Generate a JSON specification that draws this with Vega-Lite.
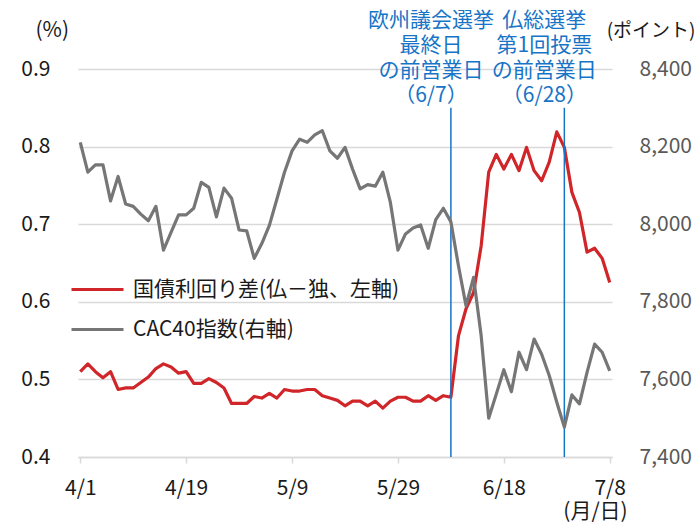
{
  "$schema": "https://vega.github.io/schema/vega-lite/v6.json",
  "width": 534,
  "height": 388,
  "autosize": {"type": "none"},
  "padding": {"left": 78, "top": 69, "right": 84, "bottom": 67},
  "background": "white",
  "config": {
    "view": {"stroke": null},
    "font": "Noto Sans CJK JP",
    "axis": {"labelFont": "Noto Sans CJK JP", "titleFont": "Noto Sans CJK JP", "labelFontSize": 21, "titleFontSize": 21, "titleFontWeight": "normal", "labelColor": "#1a1a1a", "titleColor": "#1a1a1a"}
  },
  "datasets": {
    "main": [
      {"d":"4/1","i":0,"s":0.510,"c":8211},{"d":"4/2","i":1,"s":0.520,"c":8134},{"d":"4/3","i":2,"s":0.510,"c":8153},{"d":"4/4","i":3,"s":0.502,"c":8153},{"d":"4/5","i":4,"s":0.510,"c":8060},
      {"d":"4/8","i":5,"s":0.487,"c":8123},{"d":"4/9","i":6,"s":0.489,"c":8052},{"d":"4/10","i":7,"s":0.489,"c":8046},{"d":"4/11","i":8,"s":0.496,"c":8026},{"d":"4/12","i":9,"s":0.503,"c":8009},
      {"d":"4/15","i":10,"s":0.514,"c":8046},{"d":"4/16","i":11,"s":0.520,"c":7933},{"d":"4/17","i":12,"s":0.516,"c":7979},{"d":"4/18","i":13,"s":0.508,"c":8024},{"d":"4/19","i":14,"s":0.510,"c":8024},
      {"d":"4/22","i":15,"s":0.495,"c":8041},{"d":"4/23","i":16,"s":0.495,"c":8108},{"d":"4/24","i":17,"s":0.501,"c":8095},{"d":"4/25","i":18,"s":0.496,"c":8019},{"d":"4/26","i":19,"s":0.489,"c":8093},
      {"d":"4/29","i":20,"s":0.469,"c":8067},{"d":"4/30","i":21,"s":0.469,"c":7985},{"d":"5/1","i":22,"s":0.469,"c":7983},{"d":"5/2","i":23,"s":0.478,"c":7912},{"d":"5/3","i":24,"s":0.476,"c":7950},
      {"d":"5/6","i":25,"s":0.482,"c":7997},{"d":"5/7","i":26,"s":0.476,"c":8065},{"d":"5/8","i":27,"s":0.487,"c":8134},{"d":"5/9","i":28,"s":0.485,"c":8189},{"d":"5/10","i":29,"s":0.485,"c":8219},
      {"d":"5/13","i":30,"s":0.487,"c":8211},{"d":"5/14","i":31,"s":0.487,"c":8230},{"d":"5/15","i":32,"s":0.479,"c":8241},{"d":"5/16","i":33,"s":0.476,"c":8189},{"d":"5/17","i":34,"s":0.473,"c":8170},
      {"d":"5/20","i":35,"s":0.466,"c":8198},{"d":"5/21","i":36,"s":0.472,"c":8142},{"d":"5/22","i":37,"s":0.472,"c":8091},{"d":"5/23","i":38,"s":0.466,"c":8102},{"d":"5/24","i":39,"s":0.472,"c":8098},
      {"d":"5/27","i":40,"s":0.463,"c":8134},{"d":"5/28","i":41,"s":0.472,"c":8056},{"d":"5/29","i":42,"s":0.477,"c":7933},{"d":"5/30","i":43,"s":0.477,"c":7975},{"d":"5/31","i":44,"s":0.472,"c":7990},
      {"d":"6/3","i":45,"s":0.472,"c":7998},{"d":"6/4","i":46,"s":0.479,"c":7938},{"d":"6/5","i":47,"s":0.473,"c":8012},{"d":"6/6","i":48,"s":0.479,"c":8041},{"d":"6/7","i":49,"s":0.477,"c":8006},
      {"d":"6/10","i":50,"s":0.556,"c":7893},{"d":"6/11","i":51,"s":0.591,"c":7790},{"d":"6/12","i":52,"s":0.612,"c":7863},{"d":"6/13","i":53,"s":0.672,"c":7713},{"d":"6/14","i":54,"s":0.767,"c":7500},
      {"d":"6/17","i":55,"s":0.790,"c":7562},{"d":"6/18","i":56,"s":0.771,"c":7625},{"d":"6/19","i":57,"s":0.790,"c":7568},{"d":"6/20","i":58,"s":0.769,"c":7670},{"d":"6/21","i":59,"s":0.799,"c":7625},
      {"d":"6/24","i":60,"s":0.769,"c":7704},{"d":"6/25","i":61,"s":0.756,"c":7665},{"d":"6/26","i":62,"s":0.780,"c":7610},{"d":"6/27","i":63,"s":0.819,"c":7541},{"d":"6/28","i":64,"s":0.799,"c":7477},
      {"d":"7/1","i":65,"s":0.741,"c":7560},{"d":"7/2","i":66,"s":0.715,"c":7537},{"d":"7/3","i":67,"s":0.664,"c":7618},{"d":"7/4","i":68,"s":0.669,"c":7691},{"d":"7/5","i":69,"s":0.656,"c":7670},
      {"d":"7/8","i":70,"s":0.625,"c":7622}
    ],
    "events": [
      {"d":"6/7","i":49,"label":"欧州議会選挙\n最終日\nの前営業日\n（6/7）"},
      {"d":"6/28","i":64,"label":"仏総選挙\n第1回投票\nの前営業日\n（6/28）"}
    ]
  },
  "encoding": {
    "x": {
      "field": "i", "type": "quantitative",
      "scale": {"domain": [-0.3, 70.3], "nice": false, "zero": false},
      "axis": {
        "values": [0, 14, 28, 42, 56, 70],
        "labelExpr": "['4/1','4/19','5/9','5/29','6/18','7/8'][round(datum.value/14)]",
        "grid": false, "domain": true, "domainColor": "#d9d9d9", "domainWidth": 1.5,
        "ticks": true, "tickColor": "#d9d9d9", "tickSize": 6, "tickWidth": 1.5,
        "labelPadding": 14, "labelFlush": false, "labelOverlap": false,
        "title": "(月/日)", "titleX": 517, "titleY": 54, "titleAlign": "center", "titleBaseline": "middle", "titleAngle": 0
      }
    }
  },
  "layer": [
    {
      "layer": [
        {
          "data": {"name": "main"},
          "mark": {"type": "line", "strokeWidth": 3.2, "strokeJoin": "round"},
          "encoding": {
            "y": {
              "field": "s", "type": "quantitative",
              "scale": {"domain": [0.4, 0.9], "nice": false, "zero": false},
              "axis": {
                "orient": "left", "values": [0.4, 0.5, 0.6, 0.7, 0.8, 0.9], "format": ".1f",
                "grid": true, "gridColor": "#d9d9d9", "gridWidth": 1.5,
                "domain": false, "ticks": false, "labelPadding": 28,
                "title": "(%)", "titleAngle": 0, "titleX": -43, "titleY": -39, "titleAlign": "left", "titleBaseline": "middle"
              }
            },
            "color": {
              "datum": "国債利回り差(仏－独、左軸)", "type": "nominal",
              "scale": {"domain": ["国債利回り差(仏－独、左軸)", "CAC40指数(右軸)"], "range": ["#d0262a", "#767676"]},
              "legend": {
                "orient": "none", "legendX": -8, "legendY": 193, "title": null,
                "symbolType": "stroke", "symbolSize": 2704, "symbolStrokeWidth": 3,
                "labelFontSize": 21, "labelFont": "Noto Sans CJK JP", "labelColor": "#1a1a1a",
                "labelOffset": 8, "rowPadding": 2, "padding": 0, "labelLimit": 0
              }
            }
          }
        },
        {
          "data": {"name": "events"},
          "mark": {"type": "rule", "color": "#1874c6", "strokeWidth": 1.5},
          "encoding": {
            "y": {"datum": 0.85, "type": "quantitative"},
            "y2": {"datum": 0.4}
          }
        },
        {
          "data": {"name": "events"},
          "mark": {"type": "text", "color": "#1874c6", "fontSize": 21, "lineBreak": "\n", "lineHeight": 25, "align": "center", "baseline": "bottom", "dx": -20, "dy": -77},
          "encoding": {
            "y": {"datum": 0.85, "type": "quantitative"},
            "text": {"field": "label"}
          }
        }
      ]
    },
    {
      "data": {"name": "main"},
      "mark": {"type": "line", "strokeWidth": 3.2, "strokeJoin": "round"},
      "encoding": {
        "y": {
          "field": "c", "type": "quantitative",
          "scale": {"domain": [7400, 8400], "nice": false, "zero": false},
          "axis": {
            "orient": "right", "values": [7400, 7600, 7800, 8000, 8200, 8400], "format": ",.0f",
            "grid": false, "domain": false, "ticks": false, "labelPadding": 27, "labelColor": "#595959",
            "title": "(ポイント)", "titleAngle": 0, "titleX": 83, "titleY": -39, "titleAlign": "right", "titleBaseline": "middle", "titleFontSize": 19
          }
        },
        "color": {"datum": "CAC40指数(右軸)", "type": "nominal"}
      }
    }
  ],
  "resolve": {"scale": {"y": "independent"}}
}
